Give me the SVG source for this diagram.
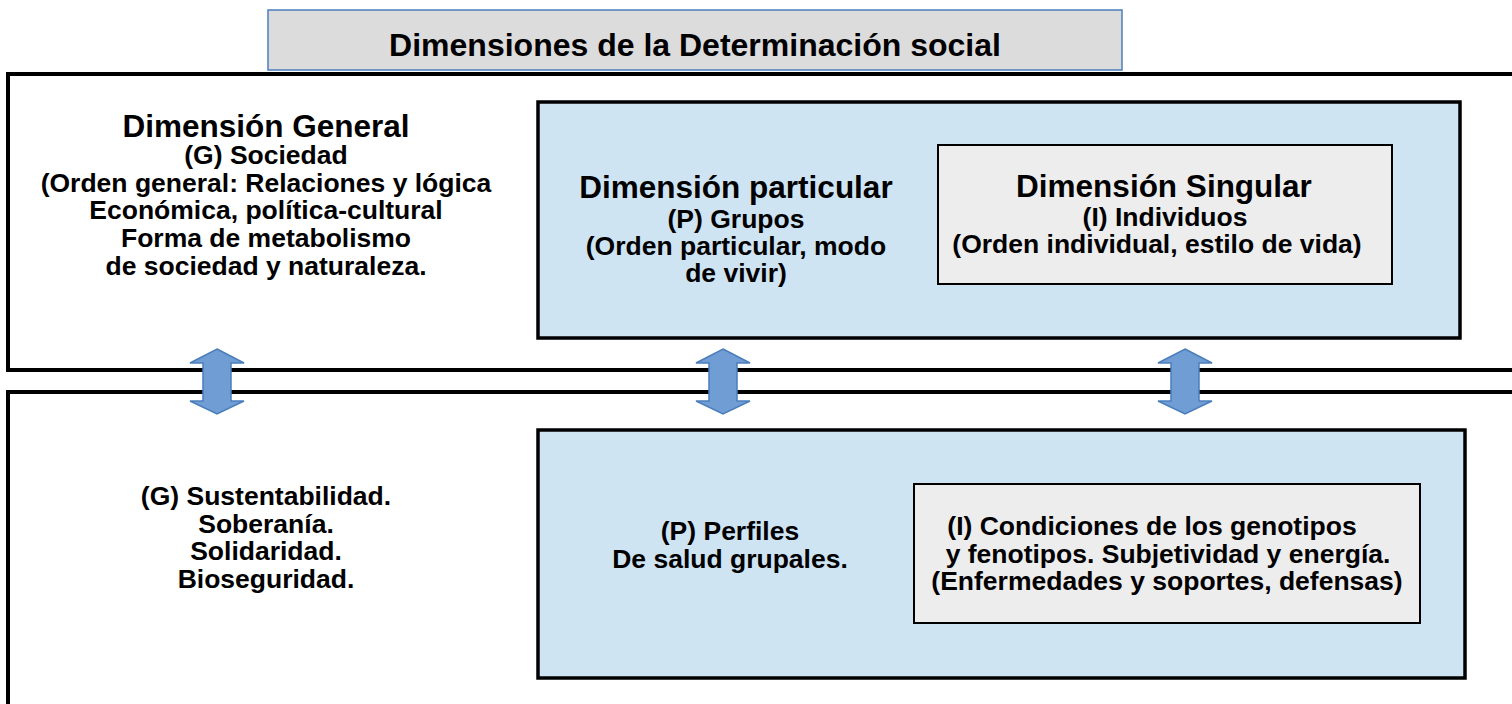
<svg xmlns="http://www.w3.org/2000/svg" width="1512" height="704" viewBox="0 0 1512 704">
<style>
text{font-family:"Liberation Sans",Arial,sans-serif;font-weight:bold;fill:#000;text-anchor:middle}
.h{font-size:31.5px}
.t{font-size:26.5px}
.outer{fill:#fff;stroke:#000;stroke-width:4}
.blue{fill:#cfe4f3;stroke:#000;stroke-width:3.5}
.grey{fill:#ededed;stroke:#000;stroke-width:2}
.arr{fill:#6f9dd4;stroke:#4a7ebb;stroke-width:1.5}
</style>
<rect width="1512" height="704" fill="#fff"/>
<g id="title">
<rect x="268" y="10" width="854" height="60" fill="#dcdcdc" stroke="#4a7ebb" stroke-width="1.5"/>
<text x="695" y="56" style="font-size:32px">Dimensiones de la Determinación social</text>
</g>
<g id="top-band">
<rect class="outer" x="8" y="74" width="1530" height="296"/>
</g>
<g id="bottom-band">
<rect class="outer" x="8" y="392" width="1530" height="340"/>
</g>
<g id="dim-general">
<text class="h" x="266" y="137">Dimensión General</text>
<text class="t" x="266" y="164">(G) Sociedad</text>
<text class="t" x="266" y="192">(Orden general: Relaciones y lógica</text>
<text class="t" x="266" y="219">Económica, política-cultural</text>
<text class="t" x="266" y="247">Forma de metabolismo</text>
<text class="t" x="266" y="275">de sociedad y naturaleza.</text>
</g>
<g id="dim-particular">
<rect class="blue" x="538" y="102" width="922" height="236"/>
<text class="h" x="736" y="198">Dimensión particular</text>
<text class="t" x="736" y="228">(P) Grupos</text>
<text class="t" x="736" y="255">(Orden particular, modo</text>
<text class="t" x="736" y="282">de vivir)</text>
</g>
<g id="dim-singular">
<rect class="grey" x="938" y="145" width="454" height="139"/>
<text class="h" x="1164" y="197">Dimensión Singular</text>
<text class="t" x="1165" y="226">(I) Individuos</text>
<text class="t" x="1157" y="253">(Orden individual, estilo de vida)</text>
</g>
<g id="general-health">
<text class="t" x="266" y="505">(G) Sustentabilidad.</text>
<text class="t" x="266" y="533">Soberanía.</text>
<text class="t" x="266" y="560">Solidaridad.</text>
<text class="t" x="266" y="588">Bioseguridad.</text>
</g>
<g id="perfiles">
<rect class="blue" x="538" y="430" width="927" height="248"/>
<text class="t" x="730" y="540">(P) Perfiles</text>
<text class="t" x="730" y="568">De salud grupales.</text>
</g>
<g id="condiciones">
<rect class="grey" x="914" y="484" width="506" height="139"/>
<text class="t" x="1152" y="535">(I) Condiciones de los genotipos</text>
<text class="t" x="1168" y="563">y fenotipos. Subjetividad y energía.</text>
<text class="t" x="1167" y="590">(Enfermedades y soportes, defensas)</text>
</g>
<g id="connectors">
<polygon class="arr" points="217,349 244,363 231,363 231,401 244,401 217,414 190,401 203,401 203,363 190,363"/>
<polygon class="arr" points="723,349 750,363 737,363 737,401 750,401 723,414 696,401 709,401 709,363 696,363"/>
<polygon class="arr" points="1185,349 1212,363 1199,363 1199,401 1212,401 1185,414 1158,401 1171,401 1171,363 1158,363"/>
</g>
</svg>
